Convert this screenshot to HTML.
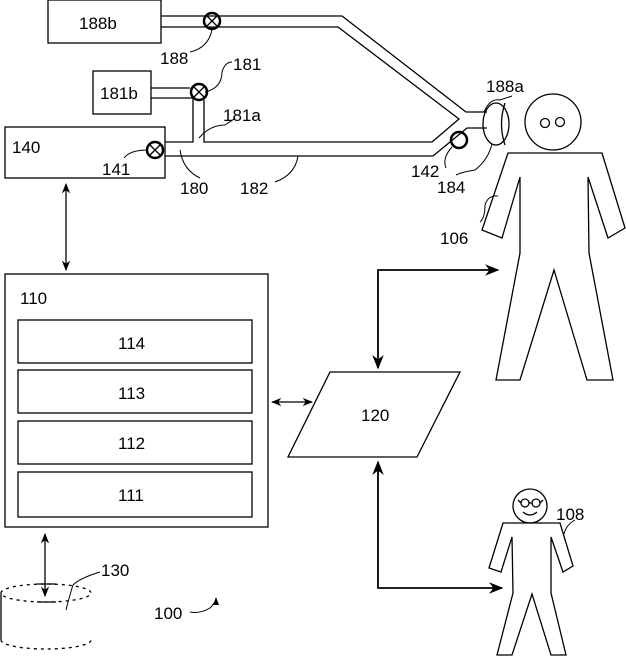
<!DOCTYPE html>
<html><head><meta charset="utf-8"><style>html,body{margin:0;padding:0;background:#fff}svg{display:block}</style></head><body>
<svg width="626" height="658" viewBox="0 0 626 658" xmlns="http://www.w3.org/2000/svg" font-family="Liberation Sans, sans-serif" font-size="17" fill="none" stroke="#000" stroke-width="1.3">
<defs>
<marker id="a" viewBox="0 0 10 10" refX="9" refY="5" markerWidth="8" markerHeight="8" orient="auto-start-reverse"><path d="M0,1 L10,5 L0,9 L3,5 z" fill="#000" stroke="none"/></marker>
</defs>
<rect x="48" y="0" width="113" height="43"/>
<rect x="93" y="71" width="58" height="43"/>
<rect x="5" y="127" width="160" height="51"/>
<path d="M161,16 H342 L466,112 H487"/>
<path d="M161,27 H338 L459,119 L432,142"/>
<path d="M151,88 H190"/>
<path d="M151,98 H193 V142 H165"/>
<path d="M204,100 V142 H432"/>
<path d="M165,156 H433 L467,128 H487"/>
<g stroke-width="2.5"><circle cx="212" cy="21" r="8"/><circle cx="199" cy="92" r="8"/><circle cx="155" cy="150" r="8"/><circle cx="459" cy="140" r="8"/></g>
<g stroke-width="1.3"><path d="M207,16 L217,26 M217,16 L207,26"/><path d="M194,87 L204,97 M204,87 L194,97"/><path d="M150,145 L160,155 M160,145 L150,155"/></g>
<ellipse cx="496" cy="124" rx="13" ry="21"/>
<path d="M505,103 Q498,124 505,145"/>
<circle cx="553" cy="122" r="28"/>
<circle cx="545" cy="123" r="4.5"/><circle cx="560" cy="122" r="4.5"/>
<path d="M508,153 L602,153 L625,228 L608,238 L588,177 L589,253 L613,380 L587,380 L554,270 L520,380 L496,380 L520,253 L520,177 L502,238 L482,230 Z"/>
<rect x="5" y="274" width="263" height="253"/>
<rect x="18" y="320" width="234" height="43"/>
<rect x="18" y="370" width="234" height="43"/>
<rect x="18" y="421" width="234" height="43"/>
<rect x="18" y="472" width="234" height="45"/>
<path d="M330,372 H460 L417,457 H288 Z"/>
<path d="M66,184 V270" marker-start="url(#a)" marker-end="url(#a)"/>
<path d="M272,402 H312" marker-start="url(#a)" marker-end="url(#a)"/>
<path d="M378,368 V270 H498" marker-start="url(#a)" marker-end="url(#a)" stroke-width="1.8"/>
<path d="M378,462 V588 H502" marker-start="url(#a)" marker-end="url(#a)" stroke-width="1.8"/>
<path d="M45,534 V596" marker-start="url(#a)" marker-end="url(#a)"/>
<path d="M1,593 A45,9 0 0 1 91,593 A45,9 0 0 1 1,593" stroke-dasharray="3,4"/>
<path d="M1,593 V640"/>
<path d="M1,640 A45,9 0 0 0 91,640" stroke-dasharray="3,4"/>
<path d="M37,584 H56 M37,602 H56"/>
<circle cx="530" cy="506" r="17"/>
<circle cx="525" cy="503" r="4"/><circle cx="536" cy="503" r="4"/>
<path d="M518,500 L521,503 M529,503 H532 M540,503 L543,500 M523,512 Q530,518 537,512"/>
<path d="M503,523 L560,523 L573,566 L563,572 L551,537 L551,593 L566,655 L551,655 L532,594 L512,655 L497,655 L513,593 L512,537 L501,572 L489,568 Z"/>
<g stroke-width="1">
<path d="M212,30 Q208,48 190,52"/>
<path d="M205,92 Q222,88 222,72 Q225,62 232,62"/>
<path d="M199,138 Q210,125 225,125 Q233,120 235,118"/>
<path d="M148,150 Q130,150 124,158"/>
<path d="M180,150 Q183,170 200,178"/>
<path d="M298,156 Q295,175 275,182"/>
<path d="M484,112 Q490,98 500,100 Q506,98 512,96"/>
<path d="M452,147 Q442,158 446,168"/>
<path d="M492,144 Q488,160 475,170 Q462,172 456,175"/>
<path d="M498,196 Q488,195 485,205 Q485,218 480,222"/>
<path d="M564,534 Q566,525 575,520"/>
<path d="M66,610 Q70,594 73,585 Q80,578 100,572"/>
<path d="M190,612 Q200,614 210,608 Q214,604 216,600"/>
</g>
<path d="M216,597 L213,605 L219,605 Z" fill="#000" stroke="none"/>
<g fill="#000" stroke="none">
<text x="79" y="29">188b</text>
<text x="100" y="99">181b</text>
<text x="12" y="153">140</text>
<text x="102" y="175">141</text>
<text x="160" y="64">188</text>
<text x="233" y="70">181</text>
<text x="223" y="121">181a</text>
<text x="180" y="194">180</text>
<text x="240" y="194">182</text>
<text x="486" y="92">188a</text>
<text x="411" y="177">142</text>
<text x="437" y="193">184</text>
<text x="440" y="244">106</text>
<text x="20" y="304">110</text>
<text x="118" y="349">114</text>
<text x="118" y="399">113</text>
<text x="118" y="449">112</text>
<text x="118" y="501">111</text>
<text x="361" y="421">120</text>
<text x="556" y="520">108</text>
<text x="101" y="576">130</text>
<text x="154" y="619">100</text>
</g>
</svg>
</body></html>
